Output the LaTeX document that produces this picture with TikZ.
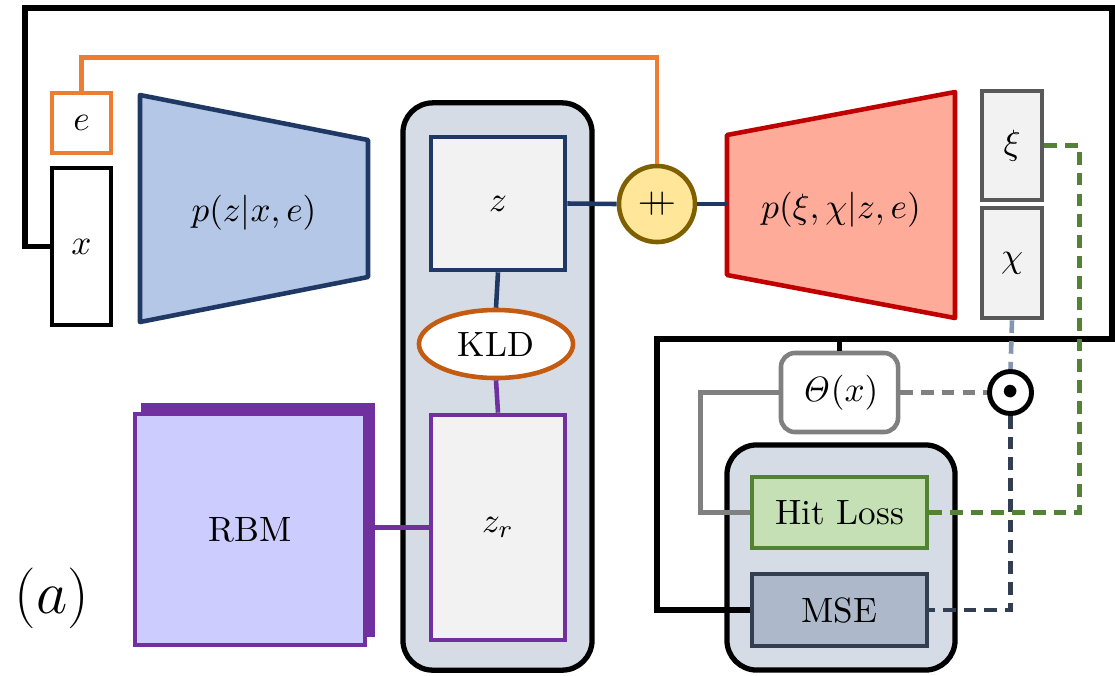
\documentclass[tikz,border=0pt]{standalone}
\usetikzlibrary{shapes.geometric}

\definecolor{navy}{HTML}{203864}
\definecolor{encfill}{HTML}{B4C7E7}
\definecolor{eorange}{HTML}{ED7D31}
\definecolor{kldorange}{HTML}{C55A11}
\definecolor{rbmpurple}{HTML}{7030A0}
\definecolor{rbmfill}{HTML}{CCCCFF}
\definecolor{groupfill}{HTML}{D6DCE5}
\definecolor{boxgray}{HTML}{F2F2F2}
\definecolor{catfill}{HTML}{FFE699}
\definecolor{catborder}{HTML}{7F6000}
\definecolor{decfill}{HTML}{FFAB9A}
\definecolor{decred}{HTML}{C00000}
\definecolor{outgray}{HTML}{595959}
\definecolor{thetagray}{HTML}{808080}
\definecolor{hitgreen}{HTML}{548235}
\definecolor{hitfill}{HTML}{C5E0B4}
\definecolor{msefill}{HTML}{ADB9CA}
\definecolor{msedark}{HTML}{333F50}
\definecolor{chiblue}{HTML}{8497B0}

\tikzset{
  box/.style={draw, rectangle, line width=1.3pt, inner sep=0pt, fill=boxgray},
  group/.style={draw=black, rectangle, rounded corners=8.5pt, line width=1.5pt,
    fill=groupfill, inner sep=0pt},
  wire/.style={line width=1.3pt},
  dashwire/.style={line width=1.3pt, dash pattern=on 3.6pt off 2.3pt},
}

\begin{document}
\begin{tikzpicture}[x=0.01cm, y=-0.01cm]
    \useasboundingbox (0,0) rectangle (1115,675);

    % Groups
    \node[group, minimum width=1.89cm, minimum height=5.67cm] (lat) at (497.5,386.5) {};
    \node[group, minimum width=2.28cm, minimum height=2.25cm] (loss) at (841,557.5) {};

    % Inputs
    \node[box, draw=black, fill=white, minimum width=0.59cm, minimum height=1.57cm] (x) at (81.5,246.5) {$x$};
    \node[box, draw=eorange, fill=white, minimum width=0.59cm, minimum height=0.60cm] (e) at (81.5,123) {$e$};

    % Encoder
    \draw[navy, fill=encfill, line width=1.3pt, line join=round]
        (140,95) -- (368,140) -- (368,277) -- (140,322) -- cycle;
    \node (enc) at (254,213) {$p(z|x,e)$};

    % Latent space
    \node[box, draw=navy, minimum width=1.34cm, minimum height=1.33cm] (z) at (498,203.5) {$z$};
    \node[ellipse, draw=kldorange, fill=white, line width=1.3pt, minimum width=1.54cm,
        minimum height=0.68cm, inner sep=0pt] (kld) at (496,344) {KLD};
    \node[box, draw=rbmpurple, minimum width=1.34cm, minimum height=2.25cm] (zr) at (498,527.5) {$z_r$};

    % RBM
    \node[box, draw=rbmpurple, fill=rbmpurple, minimum width=2.30cm, minimum height=2.30cm] (rbmback) at (258,520) {};
    \node[box, draw=rbmpurple, fill=rbmfill, minimum width=2.30cm, minimum height=2.31cm] (rbm) at (250,529.5) {RBM};

    % Concatenation
    \node[circle, draw=catborder, fill=catfill, line width=1.3pt, minimum size=0.76cm,
        inner sep=0pt] (cat) at (657,204) {$+\mkern-8.5mu+$};

    % Decoder
    \draw[decred, fill=decfill, line width=1.3pt, line join=round]
        (727,135) -- (955,92) -- (955,318) -- (727,275) -- cycle;
    \coordinate (dec) at (727,204);
    \node (declbl) at (841,210) {$p(\xi,\chi|z,e)$};

    % Outputs
    \node[box, draw=outgray, minimum width=0.60cm, minimum height=1.09cm] (xi) at (1012,145.5) {$\xi$};
    \node[box, draw=outgray, minimum width=0.60cm, minimum height=1.10cm] (chi) at (1012,263) {$\chi$};

    % Theta and product
    \node[box, draw=thetagray, fill=white, rounded corners=4pt, minimum width=1.17cm,
        minimum height=0.79cm] (theta) at (839.5,392.5) {$\mathit{\Theta}(x)$};
    \node[circle, draw=black, fill=white, line width=1.4pt, minimum size=0.42cm,
        inner sep=0pt] (prod) at (1010.5,392.5) {\small$\bullet$};

    % Losses
    \node[box, draw=hitgreen, fill=hitfill, minimum width=1.75cm, minimum height=0.71cm] (hit) at (839.5,512.5) {Hit Loss};
    \node[box, draw=msedark, fill=msefill, minimum width=1.75cm, minimum height=0.72cm] (mse) at (839.5,610) {MSE};

    % Label
    \node (lbl) at (52,598) {\fontsize{18}{22}\selectfont$(a)$};

    % Connections
    \draw[wire, eorange] (e.north) -- ++(0,-33) -| (cat.north);
    \draw[wire, navy] (z.east) -- (cat.west);
    \draw[wire, navy] (cat.east) -- (dec);
    \draw[wire, navy] (z.south) -- (kld.north);
    \draw[wire, rbmpurple] (kld.south) -- (zr.north);
    \draw[wire, rbmpurple] (zr.west) -- (zr.west -| rbmback.east);

    % Black loop
    \coordinate (tl) at (25,8);
    \coordinate (tr) at (1112,8);
    \coordinate (br) at (1112,339);
    \coordinate (bl) at (657,339);
    \draw[wire, black, line width=1.5pt] (x.west) -| (tl) -- (tr) -- (br) -- (bl) |- (mse.west);
    \draw[wire, black, line width=1.5pt] (theta.north) -- (theta.north |- bl);

    % Loss wiring
    \draw[wire, thetagray] (theta.west) -- ++(-78,0) |- (hit.west);
    \draw[dashwire, thetagray] (theta.east) -- (prod.west);
    \draw[dashwire, chiblue] (chi.south) -- (prod.north);
    \draw[dashwire, msedark] (prod.south) |- (mse.east);
    \draw[dashwire, hitgreen] (xi.east) -- ++(35,0) |- (hit.east);
\end{tikzpicture}
\end{document}
